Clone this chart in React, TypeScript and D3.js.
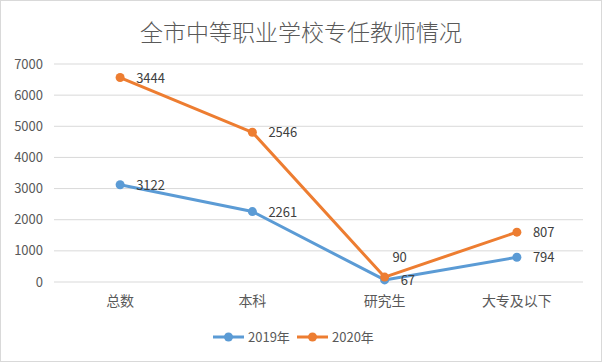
import React from "react";
import * as d3 from "d3";

const categories = ["总数", "本科", "研究生", "大专及以下"];
const series2019 = [3122, 2261, 67, 794];
const series2020 = [3444, 2546, 90, 807];
const seriesNames = ["2019年", "2020年"];
const yTicks = [0, 1000, 2000, 3000, 4000, 5000, 6000, 7000];
const title = "全市中等职业学校专任教师情况";
// label placement for 2020 series (stacked line)
const labelPos2020 = ["right", "right", "above", "right"];

const W = 602, H = 362;
const colors = ["#5B9BD5", "#ED7D31"];
const FONT = "'Noto Sans CJK SC', 'Noto Sans', sans-serif";

export default function App() {
  const x = d3.scaleBand().domain(categories).range([54, 583]);
  const y = d3.scaleLinear().domain([0, 7000]).range([282, 64]);
  const cx = (c: string) => (x(c) as number) + x.bandwidth() / 2;

  const stacked2020 = series2020.map((v, i) => v + series2019[i]);
  const lines = [
    { name: seriesNames[0], raw: series2019, vals: series2019, color: colors[0] },
    { name: seriesNames[1], raw: series2020, vals: stacked2020, color: colors[1] },
  ];
  const lineGen = d3.line<number>().x((_, i) => cx(categories[i])).y((d) => y(d));

  return (
    <svg width={W} height={H} style={{ position: "absolute", left: 0, top: 0 }}>
      <rect x={0.5} y={0.5} width={W - 1} height={H - 1} fill="#fff" stroke="#d9d9d9" />
      <text x={W / 2} y={41} textAnchor="middle" fontSize={23} fontWeight={300} fill="#595959" fontFamily={FONT}>
        {title}
      </text>
      {yTicks.map((t) => (
        <g key={t}>
          <line x1={54} x2={583} y1={y(t)} y2={y(t)} stroke="#d9d9d9" strokeWidth={1} />
          <text x={43} y={y(t) + 4.5} textAnchor="end" fontSize={13} fill="#595959" fontFamily={FONT}>
            {t}
          </text>
        </g>
      ))}
      {categories.map((c) => (
        <text key={c} x={cx(c)} y={306} textAnchor="middle" fontSize={14} fill="#595959" fontFamily={FONT}>
          {c}
        </text>
      ))}
      {lines.map((l) => (
        <g key={l.name}>
          <path d={lineGen(l.vals) as string} fill="none" stroke={l.color} strokeWidth={3} strokeLinejoin="round" />
          {l.vals.map((v, i) => (
            <circle key={i} cx={cx(categories[i])} cy={y(v)} r={4.5} fill={l.color} />
          ))}
        </g>
      ))}
      {lines.map((l, si) =>
        l.vals.map((v, i) => {
          const pos = si === 1 ? labelPos2020[i] : "right";
          const px = cx(categories[i]);
          const py = y(v);
          return pos === "above" ? (
            <text key={`${si}-${i}`} x={px + 15} y={py - 15} textAnchor="middle" fontSize={13} fill="#404040" fontFamily={FONT}>
              {l.raw[i]}
            </text>
          ) : (
            <text key={`${si}-${i}`} x={px + 16} y={py + 5} fontSize={13} fill="#404040" fontFamily={FONT}>
              {l.raw[i]}
            </text>
          );
        })
      )}
      {lines.map((l, i) => {
        const lx = i === 0 ? 213 : 297;
        return (
          <g key={l.name}>
            <line x1={lx} x2={lx + 31} y1={337} y2={337} stroke={l.color} strokeWidth={3} />
            <circle cx={lx + 15.5} cy={337} r={4.5} fill={l.color} />
            <text x={lx + 35} y={341.5} fontSize={13} fill="#595959" fontFamily={FONT}>
              {l.name}
            </text>
          </g>
        );
      })}
    </svg>
  );
}
